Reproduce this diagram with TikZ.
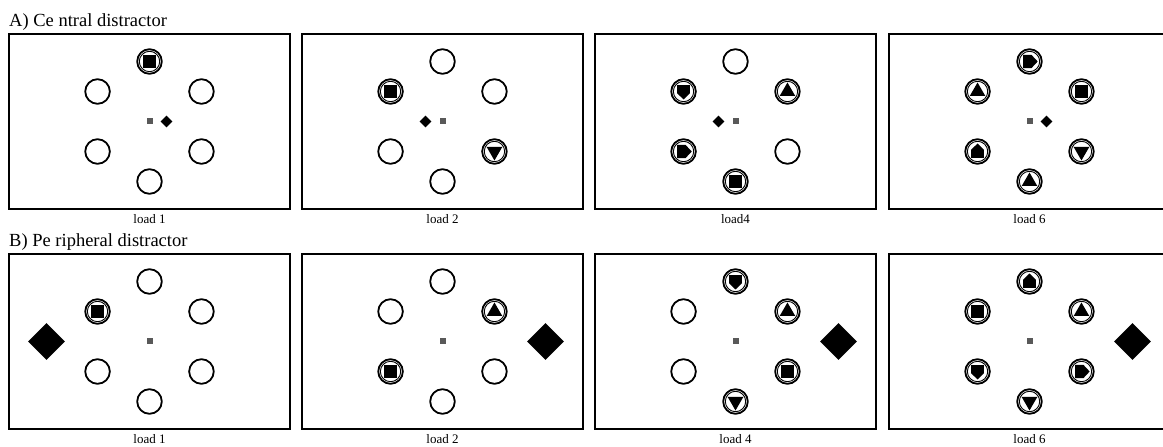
\documentclass[tikz,border=0pt]{standalone}
\usepackage{fontspec}
\setmainfont{Liberation Serif}
\usetikzlibrary{positioning, shapes.geometric, calc}

\begin{document}
\begin{tikzpicture}[
    x=1pt, y=1pt,
    font=\fontsize{13}{15}\selectfont,
    title/.style={anchor=base west, inner sep=0pt, font=\fontsize{18.5}{22}\selectfont},
    panel/.style={draw, line width=2.2pt, minimum width=281pt, minimum height=175pt, inner sep=0pt},
    loadlab/.style={inner sep=0pt},
    ring/.style={draw, circle, line width=1.8pt, minimum size=24.6pt, inner sep=0pt},
    fix/.style={fill=black!65, minimum size=6pt, inner sep=0pt},
    dia/.style={diamond, fill=black, minimum size=12pt, inner sep=0pt},
    bigdia/.style={dia, minimum size=37pt},
    inring/.style={draw, line width=0.9pt},
    sq/.pic={\draw[inring] (0,0) circle (10.2);
             \fill (-6.4,-6.4) rectangle (6.4,6.4);},
    tup/.pic={\draw[inring] (0,0) circle (10.2);
              \fill (90:9) -- (210:9) -- (330:9) -- cycle;},
    tdn/.pic={\draw[inring] (0,0) circle (10.2);
              \fill (-90:9) -- (30:9) -- (150:9) -- cycle;},
    house/.pic={\draw[inring] (0,0) circle (10.2);
                \fill (-6.3,-6.3) -- (6.3,-6.3) -- (6.3,1.8) -- (0,8) -- (-6.3,1.8) -- cycle;},
    shield/.pic={\draw[inring] (0,0) circle (10.2);
                 \fill (-6.3,6.3) -- (6.3,6.3) -- (6.3,-1.8) -- (0,-8) -- (-6.3,-1.8) -- cycle;},
    dee/.pic={\draw[inring] (0,0) circle (10.2);
              \fill (-6.3,-6.6) -- (2,-6.6) -- (8.2,0) -- (2,6.6) -- (-6.3,6.6) -- cycle;},
  ]
  \useasboundingbox (0,0) rectangle (1163,447);

  \node[title] (ta) at (9,420) {A) Ce ntral distractor};
  \node[title] (tb) at (9,200) {B) Pe ripheral distractor};

  % frames, fixation and the six placeholders
  \foreach \r/\y/\la/\lb/\lc/\ld in {a/325.5/load 1/load 2/load4/load 6, b/105.5/load 1/load 2/load 4/load 6} {
    \foreach \c/\x/\lab in {1/149.5/\la, 2/442.5/\lb, 3/735.5/\lc, 4/1029.5/\ld} {
      \node[panel] (\r\c) at (\x,\y) {};
      \node[loadlab, below=4pt of \r\c] (\r\c-lab) {\lab};
      \node[fix] (\r\c-fix) at (\r\c) {};
      \foreach \a in {90,30,-30,-90,-150,150}
        \node[ring] (\r\c-\a) at ($(\r\c)+(\a:60)$) {};
    }
  }

  % targets
  \foreach \p/\s in {a1-90/sq,
      a2-150/sq, a2--30/tdn,
      a3-150/shield, a3-30/tup, a3--150/dee, a3--90/sq,
      a4-90/dee, a4-150/tup, a4-30/sq, a4--150/house, a4--30/tdn, a4--90/tup,
      b1-150/sq,
      b2-30/tup, b2--150/sq,
      b3-90/shield, b3-30/tup, b3--30/sq, b3--90/tdn,
      b4-90/house, b4-150/sq, b4-30/tup, b4--150/shield, b4--30/dee, b4--90/tdn}
    \pic (\p-t) at (\p) {\s};

  % distractors
  \node[dia, xshift=17pt] (a1-dis) at (a1) {};
  \node[dia, xshift=-17pt] (a2-dis) at (a2) {};
  \node[dia, xshift=-17pt] (a3-dis) at (a3) {};
  \node[dia, xshift=17pt] (a4-dis) at (a4) {};
  \node[bigdia, xshift=-103pt] (b1-dis) at (b1) {};
  \node[bigdia, xshift=103pt] (b2-dis) at (b2) {};
  \node[bigdia, xshift=103pt] (b3-dis) at (b3) {};
  \node[bigdia, xshift=103pt] (b4-dis) at (b4) {};
\end{tikzpicture}
\end{document}
